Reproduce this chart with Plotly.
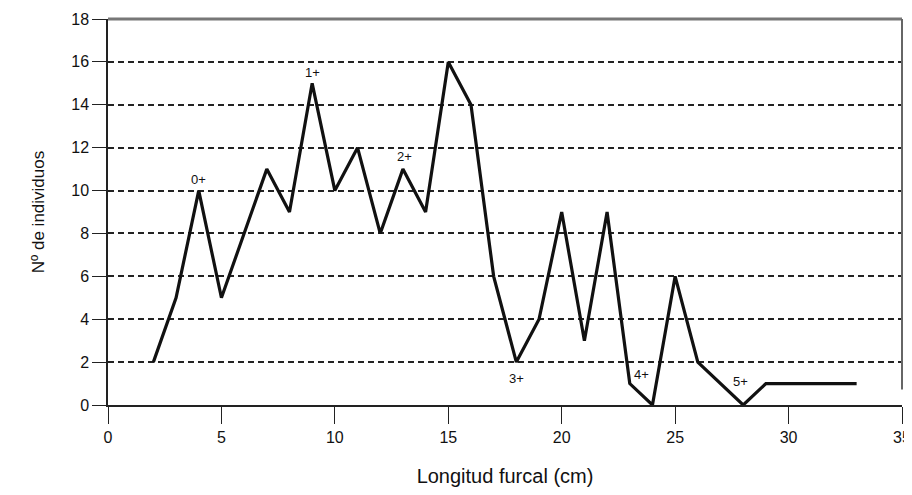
import plotly.graph_objects as go

longitud = list(range(2, 34))
individuos = [2, 5, 10, 5, 8, 11, 9, 15, 10, 12, 8, 11, 9, 16, 14, 6, 2, 4, 9, 3, 9, 1, 0, 6, 2, 1, 0, 1, 1, 1, 1, 1]

clase_texto = ["0+", "1+", "2+", "3+", "4+", "5+"]
clase_x = [3.97, 9.0, 13.05, 18.0, 23.5, 27.9]
clase_y = [10.5, 15.5, 11.6, 1.25, 1.4, 1.1]

font_family = "Liberation Sans, Arial, sans-serif"

fig = go.Figure()
fig.add_trace(go.Scatter(
    x=longitud, y=individuos, mode="lines",
    line=dict(color="#111111", width=3.2),
    showlegend=False, hoverinfo="skip",
))

for t, x, y in zip(clase_texto, clase_x, clase_y):
    fig.add_annotation(x=x, y=y, text=t, showarrow=False,
                       font=dict(family=font_family, size=13, color="#111111"))

# frame top and right (gray, scan-like)
fig.add_shape(type="line", xref="paper", yref="paper", x0=0, x1=1, y0=1, y1=1,
              line=dict(color="#777777", width=3))
fig.add_shape(type="line", xref="paper", yref="paper", x0=1, x1=1, y0=0.04, y1=1,
              line=dict(color="#666666", width=2))

fig.update_layout(
    width=904, height=487,
    margin=dict(l=100, r=10, t=11, b=90),
    paper_bgcolor="white", plot_bgcolor="white",
    font=dict(family=font_family, size=16, color="#111111"),
    xaxis=dict(
        range=[0, 35], tickvals=[0, 5, 10, 15, 20, 25, 30, 35],
        showgrid=False, zeroline=False, automargin=False,
        showline=True, linecolor="#222222", linewidth=1.5,
        ticks="outside", ticklen=17, tickwidth=1, tickcolor="#222222",
        title=dict(text="Longitud furcal (cm)", standoff=24,
                   font=dict(family=font_family, size=20)),
    ),
    yaxis=dict(
        range=[0, 18], tickvals=[0, 2, 4, 6, 8, 10, 12, 14, 16, 18],
        showgrid=True, gridcolor="#222222", gridwidth=1.5, griddash="6px,4px",
        zeroline=False, automargin=False,
        showline=True, linecolor="#222222", linewidth=1.5,
        ticks="outside", ticklen=14, tickwidth=1, tickcolor="#222222",
        title=dict(text="Nº de individuos", standoff=22,
                   font=dict(family=font_family, size=17)),
    ),
)

fig.write_html("out.html")
